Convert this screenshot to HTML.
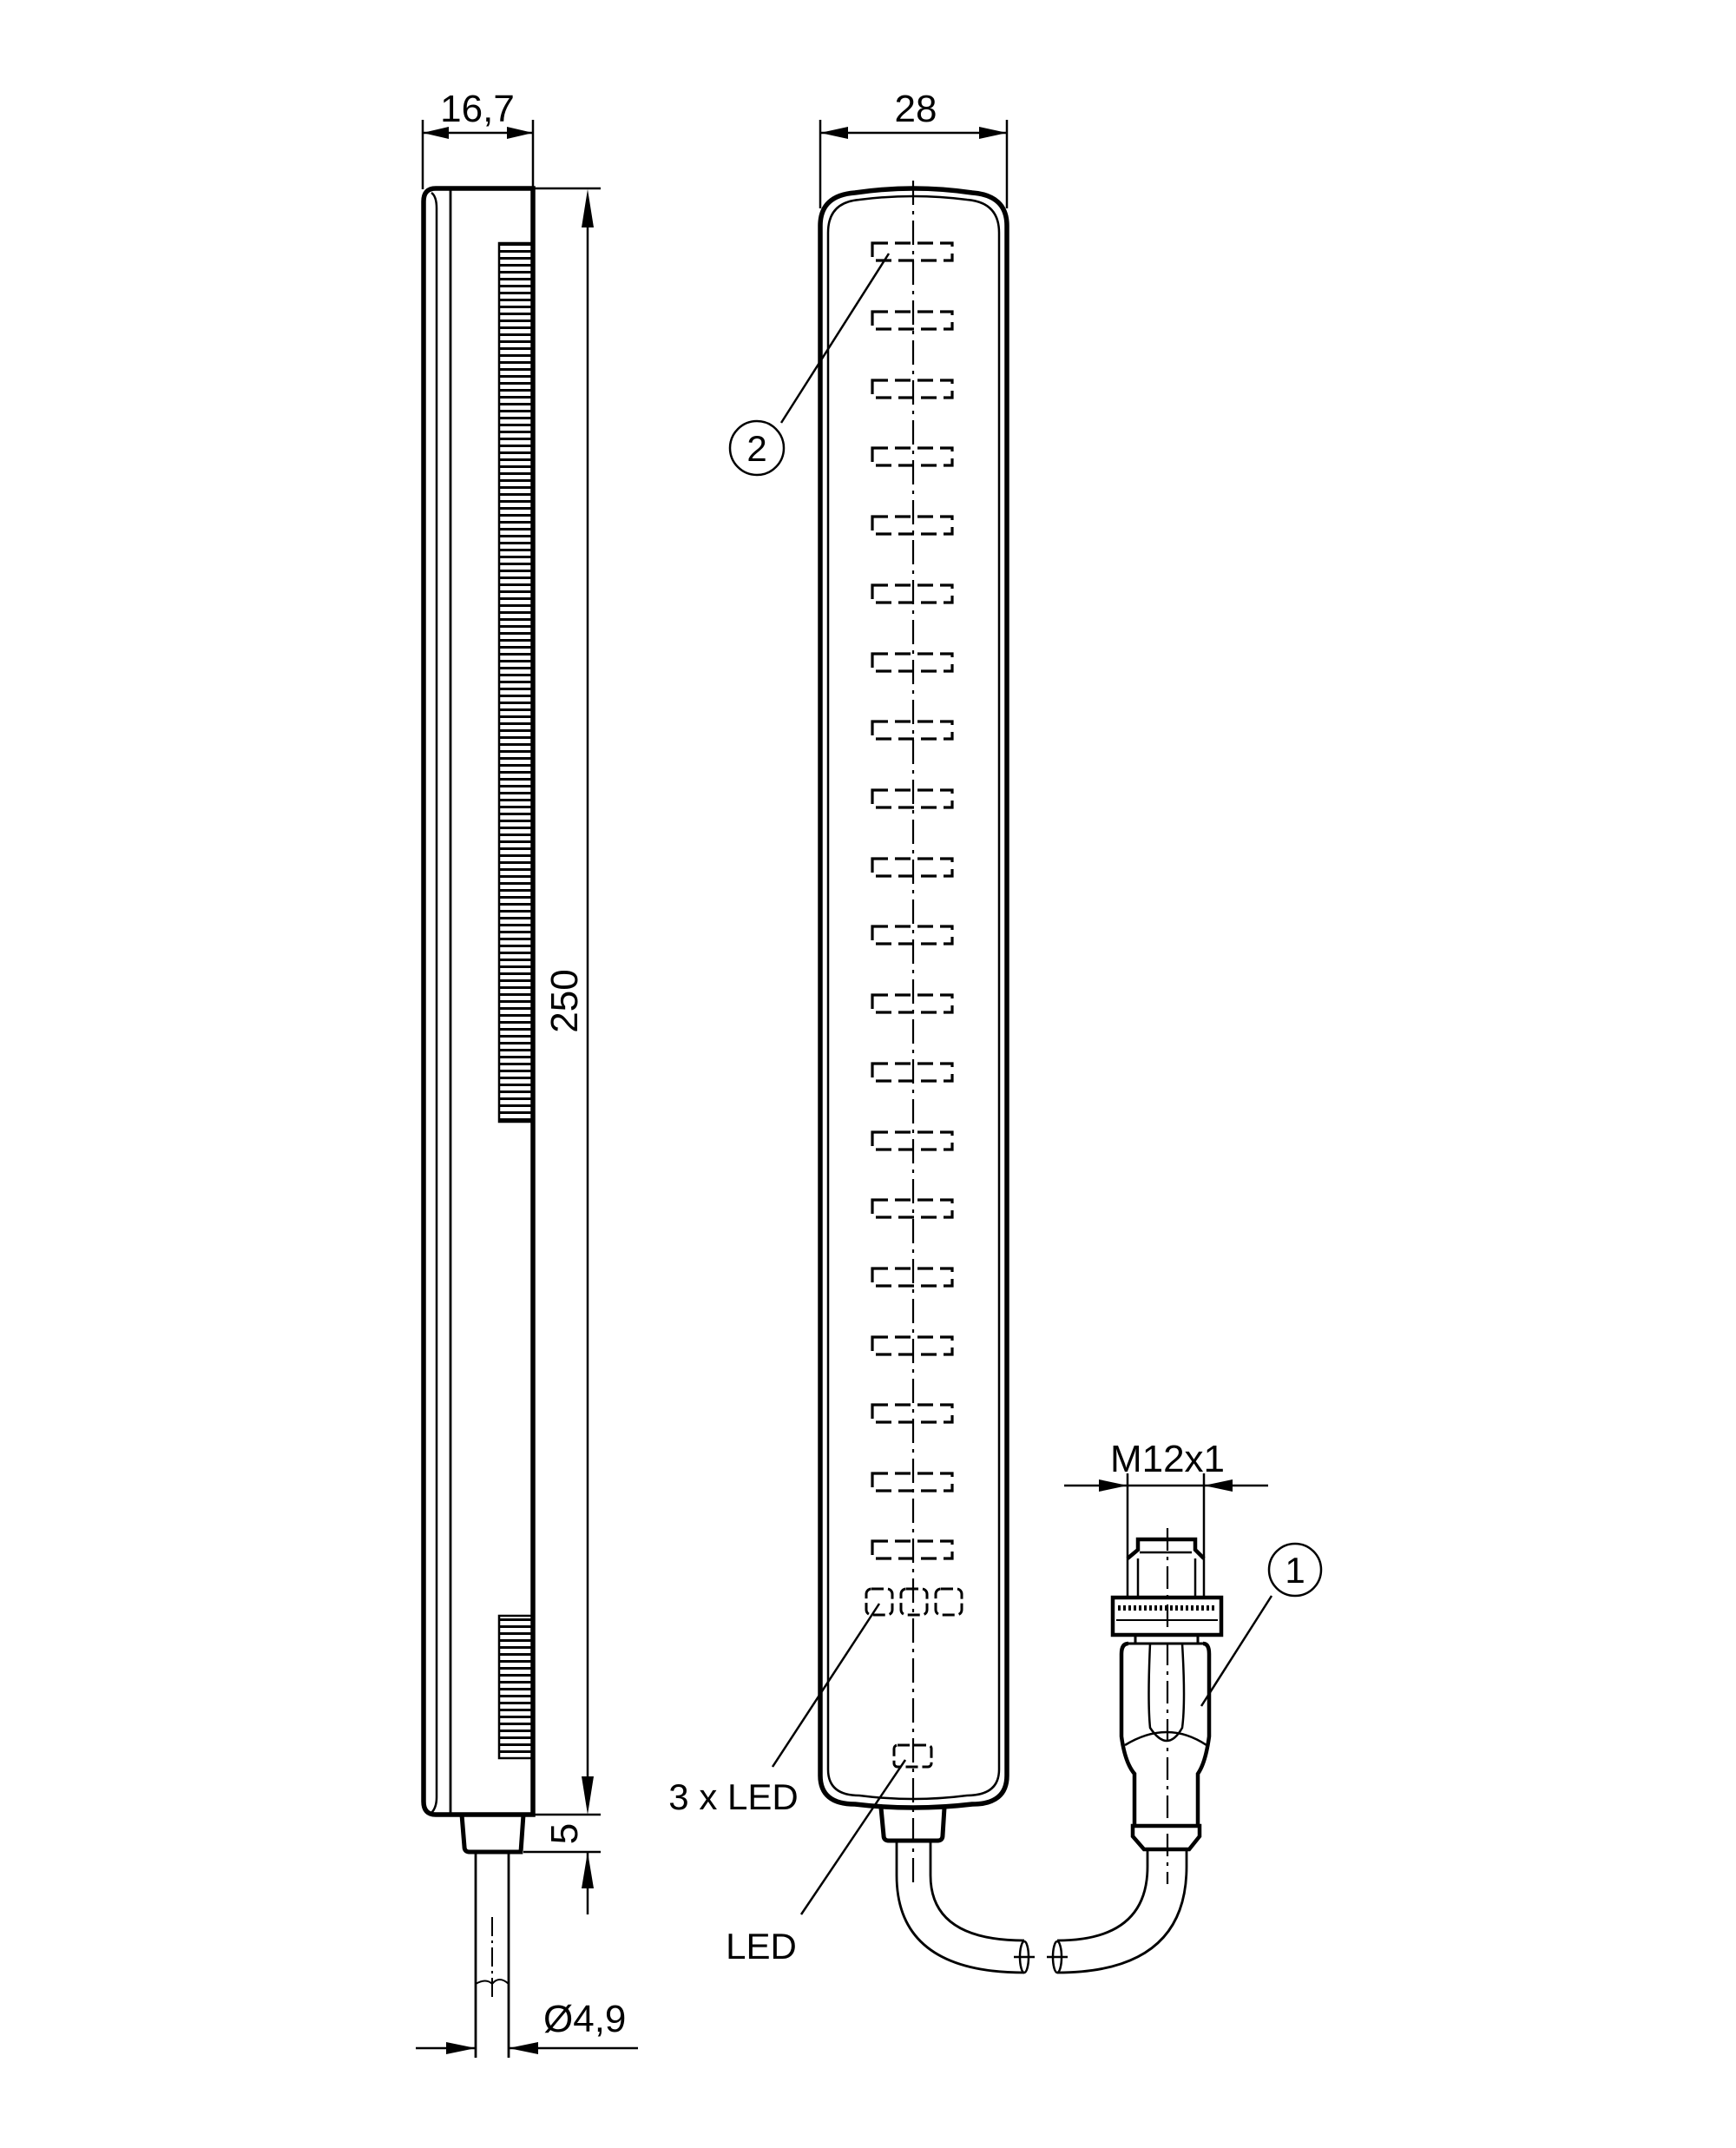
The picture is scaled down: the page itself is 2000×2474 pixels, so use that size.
<!DOCTYPE html>
<html><head><meta charset="utf-8"><style>
html,body{margin:0;padding:0;background:#fff}
svg{display:block}
text{font-family:"Liberation Sans",sans-serif;fill:#000}
</style></head><body>
<svg width="2000" height="2474" viewBox="0 0 2000 2474" xmlns="http://www.w3.org/2000/svg">
<defs>
<pattern id="ser" x="0" y="280" width="20" height="8" patternUnits="userSpaceOnUse">
<rect x="0" y="0" width="20" height="3" fill="#000"/>
</pattern>
</defs>
<g fill="none" stroke="#000" stroke-linecap="butt">
<line x1="487" y1="138" x2="487" y2="218" stroke-width="2.5"/>
<line x1="614" y1="138" x2="614" y2="218" stroke-width="2.5"/>
<line x1="487" y1="153" x2="614" y2="153" stroke-width="2.5"/>
<line x1="500" y1="217" x2="692" y2="217" stroke-width="2.5"/>
<path d="M614,217 H502 Q488,217 488,232 V2075 Q488,2090 502,2090 H614 Z" stroke-width="5.5"/>
<path d="M503,240 Q503,226 497,222 M503,240 V2070 Q503,2082 497,2088" stroke-width="2.5"/>
<line x1="519" y1="217" x2="519" y2="2090" stroke-width="2.8"/>
<rect x="575" y="280" width="39" height="1012" fill="url(#ser)" stroke-width="2.5"/>
<rect x="575" y="1861" width="39" height="164" fill="url(#ser)" stroke-width="2.5"/>
<path d="M532,2090 L535,2127 Q535,2133 541,2133 H600 L603,2090" stroke-width="5"/>
<line x1="548" y1="2133" x2="548" y2="2370" stroke-width="2.8"/>
<line x1="586" y1="2133" x2="586" y2="2370" stroke-width="2.8"/>
<line x1="567" y1="2208" x2="567" y2="2305" stroke-width="2" stroke-dasharray="22 5 3 5"/>
<path d="M548,2285 Q560,2278 567,2285 Q575,2275 586,2285" stroke-width="2"/>
<line x1="677" y1="240" x2="677" y2="2070" stroke-width="2.5"/>
<line x1="603" y1="2090" x2="692" y2="2090" stroke-width="2.5"/>
<line x1="603" y1="2133" x2="692" y2="2133" stroke-width="2.5"/>
<line x1="677" y1="2133" x2="677" y2="2205" stroke-width="2.5"/>
<line x1="479" y1="2359" x2="548" y2="2359" stroke-width="2.5"/>
<line x1="586" y1="2359" x2="735" y2="2359" stroke-width="2.5"/>

<line x1="945" y1="138" x2="945" y2="240" stroke-width="2.5"/>
<line x1="1160" y1="138" x2="1160" y2="240" stroke-width="2.5"/>
<line x1="945" y1="153" x2="1160" y2="153" stroke-width="2.5"/>
<path d="M945,260 Q945,225 985,222 Q1052,212 1120,222 Q1160,225 1160,260 V2045 Q1160,2078 1120,2078 Q1052,2086 985,2078 Q945,2078 945,2045 Z" stroke-width="5.5"/>
<path d="M954,268 Q954,233 990,230 Q1052,222 1114,230 Q1151,233 1151,268 V2038 Q1151,2068 1114,2068 Q1052,2076 990,2068 Q954,2068 954,2038 Z" stroke-width="2.5"/>
<line x1="1052" y1="208" x2="1052" y2="2170" stroke-width="2.2" stroke-dasharray="28 7 4 7"/>
<g stroke-width="3.2" stroke-dasharray="18 8">
<rect x="1005" y="280" width="92" height="20"/><rect x="1005" y="359" width="92" height="20"/>
<rect x="1005" y="438" width="92" height="20"/><rect x="1005" y="516" width="92" height="20"/>
<rect x="1005" y="595" width="92" height="20"/><rect x="1005" y="674" width="92" height="20"/>
<rect x="1005" y="753" width="92" height="20"/><rect x="1005" y="831" width="92" height="20"/>
<rect x="1005" y="910" width="92" height="20"/><rect x="1005" y="989" width="92" height="20"/>
<rect x="1005" y="1067" width="92" height="20"/><rect x="1005" y="1146" width="92" height="20"/>
<rect x="1005" y="1225" width="92" height="20"/><rect x="1005" y="1304" width="92" height="20"/>
<rect x="1005" y="1382" width="92" height="20"/><rect x="1005" y="1461" width="92" height="20"/>
<rect x="1005" y="1540" width="92" height="20"/><rect x="1005" y="1618" width="92" height="20"/>
<rect x="1005" y="1697" width="92" height="20"/><rect x="1005" y="1775" width="92" height="20"/>
</g>
<g stroke-width="3" stroke-dasharray="14 5">
<rect x="998" y="1830" width="30" height="30" rx="6"/>
<rect x="1038" y="1830" width="30" height="30" rx="6"/>
<rect x="1078" y="1830" width="30" height="30" rx="6"/>
<rect x="1030" y="2010" width="43" height="25" rx="4"/>
</g>
<line x1="1024" y1="292" x2="900" y2="487" stroke-width="2.5"/>
<circle cx="872" cy="516" r="31" stroke-width="2.5"/>
<line x1="1013" y1="1847" x2="890" y2="2035" stroke-width="2.5"/>
<line x1="1043" y1="2027" x2="923" y2="2205" stroke-width="2.5"/>
<path d="M1015,2082 L1018,2114 Q1018,2120 1024,2120 H1080 Q1086,2120 1086,2114 L1088,2082" stroke-width="5"/>
<path d="M1033,2120 V2160 Q1033,2272 1180,2272" stroke-width="2.8"/>
<path d="M1072,2120 V2160 Q1072,2235 1180,2235" stroke-width="2.8"/>
<ellipse cx="1180" cy="2254" rx="5" ry="18" stroke-width="2.5"/>
<line x1="1168" y1="2254" x2="1192" y2="2254" stroke-width="2.5"/>
<ellipse cx="1218" cy="2254" rx="5" ry="18" stroke-width="2.5"/>
<line x1="1206" y1="2254" x2="1230" y2="2254" stroke-width="2.5"/>
<path d="M1218,2272 Q1367,2272 1367,2150 V2130" stroke-width="2.8"/>
<path d="M1218,2235 Q1322,2235 1322,2150 V2130" stroke-width="2.8"/>
<line x1="1226" y1="1711" x2="1461" y2="1711" stroke-width="2.5"/>
<line x1="1299" y1="1697" x2="1299" y2="1840" stroke-width="2.5"/>
<line x1="1387" y1="1697" x2="1387" y2="1840" stroke-width="2.5"/>
<path d="M1299,1795 L1311,1785 V1773 H1377 V1785 L1387,1795" stroke-width="4.5"/>
<line x1="1313" y1="1788" x2="1373" y2="1788" stroke-width="2.5"/>
<line x1="1311" y1="1795" x2="1311" y2="1840" stroke-width="2.5"/>
<line x1="1377" y1="1795" x2="1377" y2="1840" stroke-width="2.5"/>
<rect x="1282" y="1840" width="125" height="43" stroke-width="4.5"/>
<line x1="1288" y1="1852" x2="1401" y2="1852" stroke-width="6" stroke-dasharray="3 3"/>
<line x1="1286" y1="1866" x2="1403" y2="1866" stroke-width="2"/>
<path d="M1308,1883 V1893 M1380,1883 V1893 M1300,1893 H1386" stroke-width="3"/>
<path d="M1300,1893 Q1292,1893 1292,1905 V2000 Q1296,2030 1307,2043 V2103 M1386,1893 Q1393,1893 1393,1905 V2000 Q1389,2030 1380,2043 V2103" stroke-width="4.5"/>
<path d="M1325,1893 Q1322,1960 1325,1990 Q1345,2020 1362,1990 Q1366,1960 1362,1893" stroke-width="2.5"/>
<path d="M1296,2010 Q1345,1980 1390,2010" stroke-width="2.5"/>
<path d="M1305,2103 H1382 V2115 L1370,2130 H1318 L1305,2115 Z" stroke-width="4.5"/>
<line x1="1345" y1="1760" x2="1345" y2="2170" stroke-width="2.2" stroke-dasharray="26 7 4 7"/>
<circle cx="1492" cy="1808" r="30" stroke-width="2.5"/>
<line x1="1465" y1="1838" x2="1384" y2="1965" stroke-width="2.5"/>
</g>
<g fill="#000" stroke="none">
<polygon points="487,153 517,146 517,160"/>
<polygon points="614,153 584,146 584,160"/>
<polygon points="945,153 977,146 977,160"/>
<polygon points="1160,153 1128,146 1128,160"/>
<polygon points="677,218 670,262 684,262"/>
<polygon points="677,2090 670,2046 684,2046"/>
<polygon points="677,2133 670,2175 684,2175"/>
<polygon points="548,2359 514,2352 514,2366"/>
<polygon points="586,2359 620,2352 620,2366"/>
<polygon points="1299,1711 1266,1704 1266,1718"/>
<polygon points="1387,1711 1420,1704 1420,1718"/>
</g>
<text x="550" y="140" font-size="44" text-anchor="middle">16,7</text>
<text x="1055" y="140" font-size="44" text-anchor="middle">28</text>
<text transform="translate(665,1153) rotate(-90)" font-size="44" text-anchor="middle">250</text>
<text transform="translate(665,2112) rotate(-90)" font-size="44" text-anchor="middle">5</text>
<text x="626" y="2340" font-size="44">Ø4,9</text>
<text x="872" y="531" font-size="42" text-anchor="middle">2</text>
<text x="1492" y="1823" font-size="42" text-anchor="middle">1</text>
<text x="1345" y="1695" font-size="44" text-anchor="middle">M12x1</text>
<text x="845" y="2084" font-size="42" text-anchor="middle">3 x LED</text>
<text x="877" y="2256" font-size="42" text-anchor="middle">LED</text>
</svg>
</body></html>
